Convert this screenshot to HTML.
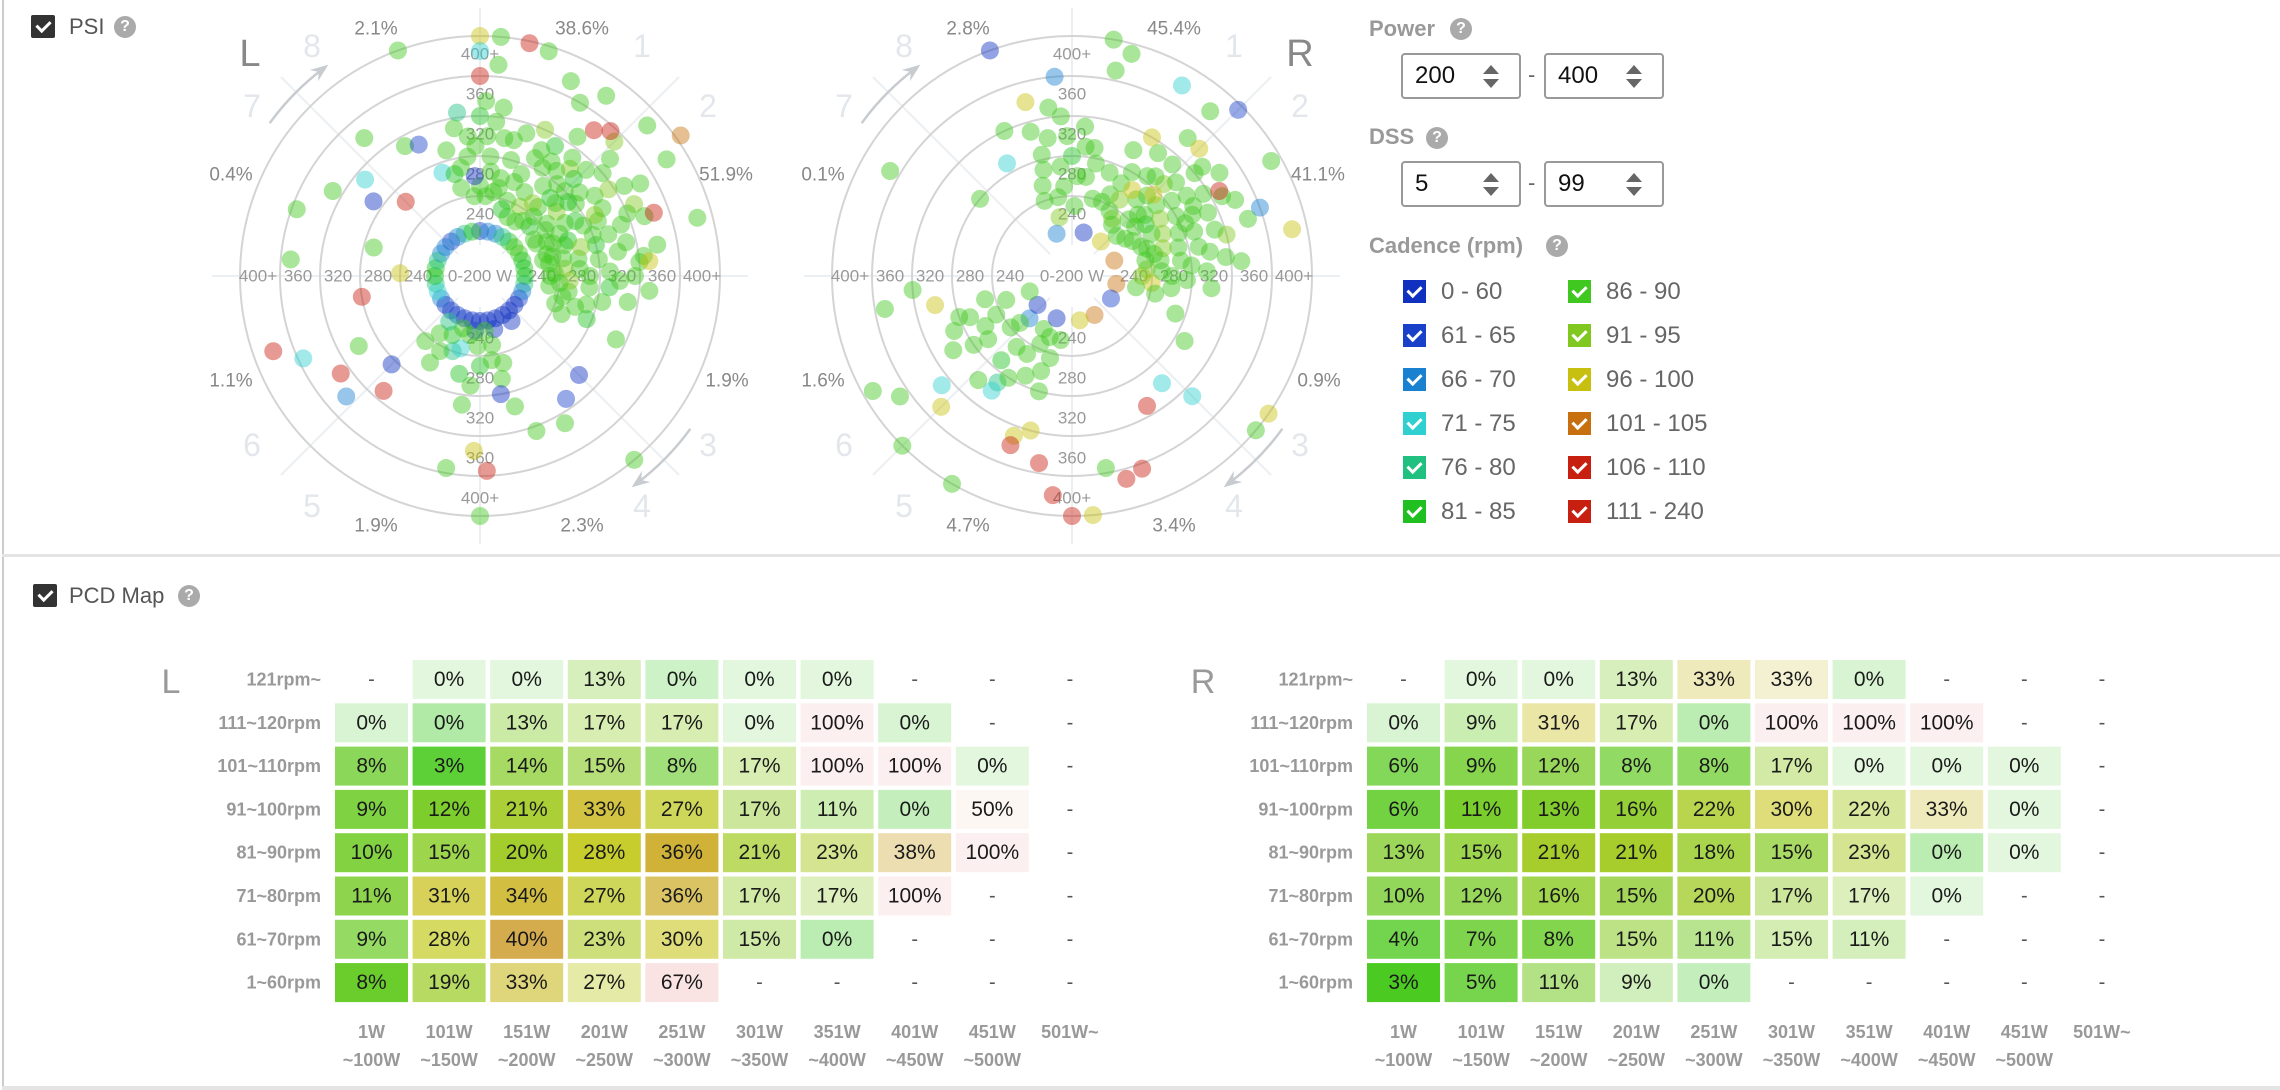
<!DOCTYPE html>
<html><head><meta charset="utf-8">
<style>
*{margin:0;padding:0;box-sizing:border-box}
body{width:2280px;height:1090px;background:#fff;position:relative;overflow:hidden;font-family:"Liberation Sans",sans-serif}
.abs{position:absolute}
.cb{position:absolute;width:24px;height:23px;background:#333;border-radius:2px}
.cb:after{content:"";position:absolute;left:8px;top:3px;width:6px;height:11px;border:solid #fff;border-width:0 3px 3px 0;transform:rotate(45deg)}
.q{position:absolute;width:22px;height:22px;border-radius:50%;background:#aaa;color:#fff;font-weight:bold;font-size:16px;text-align:center;line-height:22px}
.ttl{position:absolute;font-size:22px;color:#555}
.lt{position:absolute;font-size:22px;font-weight:bold;color:#999}
.inp{position:absolute;width:120px;height:46px;border:2px solid #999;border-radius:4px;font-size:24px;line-height:42px;padding-left:12px;color:#111}
.inp .up{position:absolute;right:20px;top:10px;border:8px solid transparent;border-bottom:9px solid #666;border-top:0}
.inp .dn{position:absolute;right:20px;top:24px;border:8px solid transparent;border-top:9px solid #666;border-bottom:0}
.dash{position:absolute;font-size:22px;color:#666}
.lg{position:absolute;font-size:24px;color:#666;height:24px;line-height:24px}
.lg i{position:absolute;left:-38px;top:0;width:23px;height:23px}
.lg i:after{content:"";position:absolute;left:7px;top:3px;width:6px;height:11px;border:solid #fff;border-width:0 3px 3px 0;transform:rotate(45deg)}
</style></head><body>
<div class="abs" style="left:2px;top:0;width:2px;height:1090px;background:#ccc"></div>
<div class="abs" style="left:2px;top:554px;width:2278px;height:3px;background:#e4e4e4"></div>
<div class="abs" style="left:2px;top:1086px;width:2278px;height:4px;background:#e4e4e4"></div>

<div class="cb" style="left:31px;top:15px"></div>
<div class="ttl" style="left:69px;top:14px">PSI</div>
<div class="q" style="left:114px;top:16px">?</div>

<div class="cb" style="left:33px;top:584px"></div>
<div class="ttl" style="left:69px;top:583px">PCD Map</div>
<div class="q" style="left:178px;top:585px">?</div>

<div class="lt" style="left:1369px;top:16px">Power</div>
<div class="q" style="left:1450px;top:18px">?</div>
<div class="inp" style="left:1401px;top:53px">200<span class="up"></span><span class="dn"></span></div>
<div class="dash" style="left:1528px;top:62px">-</div>
<div class="inp" style="left:1544px;top:53px">400<span class="up"></span><span class="dn"></span></div>
<div class="lt" style="left:1369px;top:124px">DSS</div>
<div class="q" style="left:1426px;top:127px">?</div>
<div class="inp" style="left:1401px;top:161px">5<span class="up"></span><span class="dn"></span></div>
<div class="dash" style="left:1528px;top:170px">-</div>
<div class="inp" style="left:1544px;top:161px">99<span class="up"></span><span class="dn"></span></div>
<div class="lt" style="left:1369px;top:233px">Cadence (rpm)</div>
<div class="q" style="left:1546px;top:235px">?</div>
<div id="legend"></div>

<svg id="chart" class="abs" style="left:0;top:0" width="2280" height="1090"></svg>

<script>
const NS="http://www.w3.org/2000/svg";
const svg=document.getElementById('chart');
const cadenceLabels=["0 - 60","61 - 65","66 - 70","71 - 75","76 - 80","81 - 85","86 - 90","91 - 95","96 - 100","101 - 105","106 - 110","111 - 240"];
const cadenceColors=["#1030c0","#1840c8","#1a80d0","#30d0d0","#20c080","#20c020","#40c820","#80c820","#c8c010","#c87010","#c82010","#c82010"];
const sectorLabels=["1","2","3","4","5","6","7","8"];
const ringTicks=["240","280","320","360","400+"];
const ringPowers=[240,280,320,360,400];
const leftSectorPct=["38.6%","51.9%","1.9%","2.3%","1.9%","1.1%","0.4%","2.1%"];
const rightSectorPct=["45.4%","41.1%","0.9%","3.4%","4.7%","1.6%","0.1%","2.8%"];
// points: [angleDeg (0=top, clockwise), power W, cadenceIndex]
const leftPoints=[[20,260,6],[25,290,6],[30,240,7],[30,310,5],[35,270,6],[40,250,6],[40,300,7],[45,230,5],[45,280,6],[50,320,6],[50,260,7],[55,240,6],[55,300,6],[60,270,5],[60,225,6],[65,290,6],[65,330,7],[70,250,6],[70,310,6],[75,235,6],[75,280,5],[80,260,6],[80,300,6],[85,245,7],[85,320,6],[90,270,6],[90,230,6],[95,290,5],[100,250,6],[105,270,6],[110,240,6],[100,310,6],[35,330,6],[25,225,6],[15,280,6],[60,345,6],[45,350,7],[80,340,6],[30,285,6],[50,290,6],[70,280,6],[62,250,6],[42,265,5],[88,290,6],[20,240,6],[38,230,6],
[12,250,6],[14,300,6],[18,230,5],[22,270,6],[24,320,7],[28,255,6],[32,295,6],[33,225,6],[36,250,7],[38,310,6],[42,240,6],[44,295,5],[46,265,6],[48,335,6],[52,245,6],[53,280,6],[56,315,7],[58,260,6],[61,300,6],[63,235,6],[64,275,6],[67,320,6],[68,255,5],[72,230,6],[72,295,6],[74,265,7],[77,310,6],[78,245,6],[82,280,6],[83,325,6],[86,260,6],[88,235,6],[92,300,6],[93,250,7],[96,270,6],[98,230,6],[102,285,6],[104,245,6],[108,260,6],[112,275,5],[115,250,6],[56,225,6],[66,240,6],[76,225,6],[36,290,6],[26,300,6],[18,310,6],[45,310,6],[58,330,6],[70,335,6],[90,315,6],[95,240,6],[50,275,5],[62,290,7],[80,230,6],[40,280,6],
[-10,270,6],[-5,300,6],[0,320,5],[5,280,6],[10,300,6],[-15,290,6],[0,250,6],[8,330,6],[-8,325,4],[-3,260,0],[-12,250,6],[4,240,6],[-20,270,3],[12,260,6],
[-6,280,6],[-2,290,6],[3,300,6],[6,265,6],[-10,310,6],[2,335,6],[-4,240,6],[9,245,6],[-14,265,5],[6,315,6],
[0,205,1],[20,205,2],[40,205,5],[60,205,6],[80,205,5],[100,205,4],[120,205,1],[140,205,0],[160,205,0],[180,205,0],[200,205,0],[220,205,1],[240,205,2],[260,205,4],[280,205,5],[300,205,2],[320,205,1],[340,205,4],
[10,205,2],[30,205,4],[50,205,6],[70,205,5],[90,205,5],[110,205,2],[130,205,0],[150,205,0],[170,205,0],[190,205,0],[210,205,1],[230,205,1],[250,205,3],[270,205,5],[290,205,4],[310,205,2],[330,205,2],[350,205,5],[145,215,0],[165,215,0],[185,215,1],
[170,230,6],[180,250,5],[190,220,6],[200,240,4],[210,260,6],[185,270,6],[195,235,3],[175,215,6],[205,225,5],[220,245,6],[165,250,6],[215,230,6],
[172,245,6],[182,230,6],[192,260,5],[198,215,6],[208,245,6],[214,215,4],[188,290,6],[168,265,6],
[0,400,8],[5,400,6],[12,398,10],[17,395,6],[-20,400,6],[0,385,3],[5,372,6],[0,360,11],[25,375,6],[30,360,6],[35,380,6],[38,345,11],[42,355,11],[48,385,6],[55,405,9],[58,380,6],[70,345,11],[75,385,6],[85,330,8],[95,330,6],[115,310,6],[150,330,6],[160,325,6],[135,300,0],[145,310,1],[235,330,10],[245,355,3],[228,340,2],[220,310,11],[240,300,6],[225,285,0],[260,280,11],[272,240,8],[285,270,6],[300,330,6],[290,355,6],[310,310,3],[305,290,0],[320,340,6],[330,310,6],[315,265,11],[335,305,1],[250,380,10],[275,350,6],[180,400,6],[190,355,6],[178,355,10],[182,335,8],[140,400,6],[170,280,0],[165,295,6]];
const rightPoints=[[25,250,6],[30,280,6],[35,230,7],[35,310,6],[40,260,6],[45,290,7],[45,240,6],[50,270,6],[50,320,6],[55,250,5],[55,300,6],[60,230,6],[60,280,6],[65,260,7],[65,310,6],[70,240,6],[70,290,6],[75,270,6],[75,320,7],[80,250,6],[80,300,6],[85,235,7],[85,280,6],[90,260,6],[95,240,8],[95,300,6],[100,225,6],[40,340,6],[55,340,6],[30,320,8],[20,270,6],[48,220,6],[62,330,6],[72,345,6],
[22,240,6],[26,300,6],[28,265,6],[32,250,7],[37,285,6],[38,225,6],[42,310,6],[43,270,6],[47,250,6],[48,300,6],[52,240,6],[53,285,6],[57,265,7],[58,315,6],[62,250,6],[63,295,6],[67,235,6],[68,275,6],[72,310,6],[73,255,7],[77,290,6],[78,235,6],[82,270,6],[83,315,6],[87,250,6],[88,295,6],[92,275,6],[97,260,6],[102,245,6],[35,265,8],[45,275,8],[55,225,6],[65,285,6],[75,245,6],[90,230,7],[60,300,6],[50,255,6],[40,290,6],[30,235,6],
[-15,270,6],[-10,300,6],[-5,250,6],[0,280,5],[5,310,6],[8,260,6],[-20,240,6],[10,290,6],[-8,330,6],[2,230,6],[-12,220,7],[15,240,6],
[-18,255,6],[-14,285,6],[-6,270,6],[-2,300,6],[3,260,6],[6,290,6],[-10,240,6],[-4,320,6],[12,275,6],[-16,310,6],
[200,225,6],[210,250,6],[220,270,5],[230,240,6],[240,260,6],[250,230,6],[215,290,4],[235,280,6],[225,220,2],[245,290,6],[205,270,6],[195,245,6],[255,250,6],[190,225,6],
[198,260,6],[205,235,6],[212,280,6],[218,250,6],[222,300,6],[228,230,6],[233,265,6],[238,300,6],[243,245,6],[248,270,6],[208,220,6],[196,280,6],
[40,205,8],[70,205,9],[100,205,9],[120,205,1],[150,205,9],[170,205,8],[200,205,0],[230,205,0],[250,205,6],[15,205,0],[-20,205,2],
[-20,400,0],[10,400,6],[15,390,6],[12,370,6],[30,380,3],[45,395,1],[40,375,6],[45,340,8],[50,330,6],[60,330,11],[65,340,6],[70,360,2],[78,385,8],[85,330,6],[60,390,6],[-5,360,2],[-15,340,8],[-25,320,6],[-30,290,3],[-50,280,6],[-60,370,6],[235,370,6],[240,390,6],[225,400,6],[210,400,6],[230,330,3],[225,345,8],[215,300,3],[200,330,8],[190,350,11],[185,380,11],[180,400,11],[175,400,8],[170,355,6],[165,370,11],[160,365,11],[150,310,11],[140,300,3],[135,330,3],[130,400,6],[125,400,8],[110,270,6],[120,290,6],[258,300,8],[250,280,6],[265,320,6],[260,350,6],[195,320,8],[200,340,11]];

// heatmap data
const rpmLabels=["121rpm~","111~120rpm","101~110rpm","91~100rpm","81~90rpm","71~80rpm","61~70rpm","1~60rpm"];
const wattTop=["1W","101W","151W","201W","251W","301W","351W","401W","451W","501W~"];
const wattBottom=["~100W","~150W","~200W","~250W","~300W","~350W","~400W","~450W","~500W",""];
const N=null;
const leftPct=[[N,0,0,13,0,0,0,N,N,N],[0,0,13,17,17,0,100,0,N,N],[8,3,14,15,8,17,100,100,0,N],[9,12,21,33,27,17,11,0,50,N],[10,15,20,28,36,21,23,38,100,N],[11,31,34,27,36,17,17,100,N,N],[9,28,40,23,30,15,0,N,N,N],[8,19,33,27,67,N,N,N,N,N]];
const leftWeight=[[N,.15,.15,.3,.25,.15,.15],[.2,.4,.4,.35,.35,.15,.2,.2],[.75,.9,.7,.6,.6,.35,.2,.2,.15],[.85,.95,.9,.85,.75,.45,.35,.3,.15],[.85,.8,.95,.95,.9,.7,.5,.35,.2],[.8,.75,.85,.75,.7,.4,.3,.2],[.7,.7,.8,.6,.6,.4,.35],[.95,.7,.6,.4,.35]];
const rightPct=[[N,0,0,13,33,33,0,N,N,N],[0,9,31,17,0,100,100,100,N,N],[6,9,12,8,8,17,0,0,0,N],[6,11,13,16,22,30,22,33,0,N],[13,15,21,21,18,15,23,0,0,N],[10,12,16,15,20,17,17,0,N,N],[4,7,8,15,11,15,11,N,N,N],[3,5,11,9,0,N,N,N,N,N]];
const rightWeight=[[N,.15,.15,.3,.3,.2,.2],[.2,.35,.4,.35,.35,.2,.2,.2],[.75,.8,.75,.7,.7,.4,.15,.15,.15],[.85,.95,.95,.9,.8,.6,.45,.3,.15],[.75,.8,.95,.95,.8,.7,.5,.35,.15],[.75,.75,.8,.75,.75,.45,.3,.15],[.8,.8,.8,.55,.5,.35,.3],[1,.8,.55,.3,.3]];

function mk(tag,attrs,parent){const e=document.createElementNS(NS,tag);for(const k in attrs)e.setAttribute(k,attrs[k]);(parent||svg).appendChild(e);return e;}
function txt(s,x,y,size,fill,anchor,weight,parent){const t=mk('text',{x:x,y:y,'font-size':size,fill:fill,'text-anchor':anchor||'middle','dominant-baseline':'central','font-family':'Liberation Sans, sans-serif','font-weight':weight||'normal'},parent);t.textContent=s;return t;}

// legend
const legend=document.getElementById('legend');
cadenceLabels.forEach((l,i)=>{
  const col=Math.floor(i/6),row=i%6;
  const d=document.createElement('div');d.className='lg';
  
  
  d.style.left=(col?1606:1441)+'px';d.style.top=(280+row*44)+'px';
  const b=document.createElement('i');b.style.background=cadenceColors[i];
  d.appendChild(b);d.appendChild(document.createTextNode(l));legend.appendChild(d);
});

const sectorOff=[[162,-230],[228,-170],[228,169],[162,230],[-168,230],[-228,169],[-228,-170],[-168,-230]];
const pctOff=[[102,-247],[246,-101],[247,105],[102,250],[-104,250],[-249,105],[-249,-101],[-104,-247]];
function rOf(p){return 40+(Math.max(p,200)-200);}
function polar(cx,cy,side,pcts,points){
  const g=mk('g',{});
  
  
  mk('line',{x1:cx-268,y1:cy,x2:cx+268,y2:cy,stroke:'#eceff2','stroke-width':2},g);
  mk('line',{x1:cx,y1:cy-268,x2:cx,y2:cy+268,stroke:'#eceff2','stroke-width':2},g);
  mk('line',{x1:cx-199,y1:cy-199,x2:cx+199,y2:cy+199,stroke:'#eceff2','stroke-width':2},g);
  mk('line',{x1:cx-199,y1:cy+199,x2:cx+199,y2:cy-199,stroke:'#eceff2','stroke-width':2},g);
  ringPowers.forEach(p=>{const c=mk('circle',{cx:cx,cy:cy,r:rOf(p),fill:'none',stroke:'#d4d4d4','stroke-width':2},g);});
  ringTicks.forEach((t,i)=>{const r=rOf(ringPowers[i])-18;
    txt(t,cx-r,cy,17,'#999','middle','normal',g);txt(t,cx+r,cy,17,'#999','middle','normal',g);
    txt(t,cx,cy-r,17,'#999','middle','normal',g);txt(t,cx,cy+r,17,'#999','middle','normal',g);});
  sectorLabels.forEach((s,i)=>{
    const t=txt(s,cx+sectorOff[i][0],cy+sectorOff[i][1],32,'#e3e7ec','middle','normal',g);
    });
  pcts.forEach((s,i)=>{
    const t=txt(s,cx+pctOff[i][0],cy+pctOff[i][1],19,'#888','middle','normal',g);});
  const R=260;
  function arc(a1,a2){const p1=[cx+R*Math.cos(a1*Math.PI/180),cy+R*Math.sin(a1*Math.PI/180)],p2=[cx+R*Math.cos(a2*Math.PI/180),cy+R*Math.sin(a2*Math.PI/180)];
    const pa=mk('path',{d:`M${p1[0]},${p1[1]} A${R},${R} 0 0 1 ${p2[0]},${p2[1]}`,fill:'none',stroke:'#c8ccd0','stroke-width':2.5},g);
    
    const ang=(a2+90)*Math.PI/180;const ux=Math.cos(ang),uy=Math.sin(ang),nx=-uy,ny=ux;
    mk('path',{d:`M${p2[0]+ux*6},${p2[1]+uy*6} L${p2[0]-ux*12+nx*7},${p2[1]-uy*12+ny*7} L${p2[0]-ux*6},${p2[1]-uy*6} L${p2[0]-ux*12-nx*7},${p2[1]-uy*12-ny*7}Z`,fill:'#c8ccd0'},g);}
  arc(-144,-127);arc(36,53);
  points.forEach(p=>{const r=rOf(p[1]),a=p[0]*Math.PI/180;
    const c=mk('circle',{cx:cx+r*Math.sin(a),cy:cy-r*Math.cos(a),r:9,fill:cadenceColors[p[2]],'fill-opacity':0.45},g);
    });
  mk('circle',{cx:cx,cy:cy,r:31,fill:'#fff'},g);
  txt('0-200 W',cx,cy,17,'#999','middle','normal',g);
  const lbl=txt(side==='left'?'L':'R',side==='left'?cx-230:cx+228,cy-222,38,'#888','middle','normal',g);
  
}
polar(480,276,'left',leftSectorPct,leftPoints);
polar(1072,276,'right',rightSectorPct,rightPoints);

function color(v){const h=Math.max(0,110-1.7*v);return `hsl(${h},72%,${v>=50?82:46}%)`;}
function heat(x0,side,pct,wt){
  const g=mk('g',{});
  
  
  const cw=77.6,ch=43.3,y0=660;
  rpmLabels.forEach((l,j)=>{txt(l,x0-14,y0+j*ch+19.5,18,'#999','end','bold',g);});
  pct.forEach((row,j)=>row.forEach((v,i)=>{
    const x=x0+i*cw,y=y0+j*ch;
    if(v===null){txt('-',x+36.5,y+19.5,20,'#555','middle','normal',g);return;}
    const w=(wt[j]&&wt[j][i]!=null)?wt[j][i]:0.3;
    const r=mk('rect',{x:x,y:y,width:73,height:39,fill:color(v),'fill-opacity':w},g);
    
    txt(v+'%',x+36.5,y+19.5,21,'#1a1a1a','middle','normal',g);
  }));
  wattTop.forEach((w,i)=>{txt(w,x0+i*cw+36.5,1032,18,'#999','middle','bold',g);txt(wattBottom[i],x0+i*cw+36.5,1060,18,'#999','middle','bold',g);});
  const s=txt(side==='left'?'L':'R',x0-164,y0+22,34,'#999','middle','normal',g);
  
}
heat(335,'left',leftPct,leftWeight);
heat(1367,'right',rightPct,rightWeight);
</script>
</body></html>
